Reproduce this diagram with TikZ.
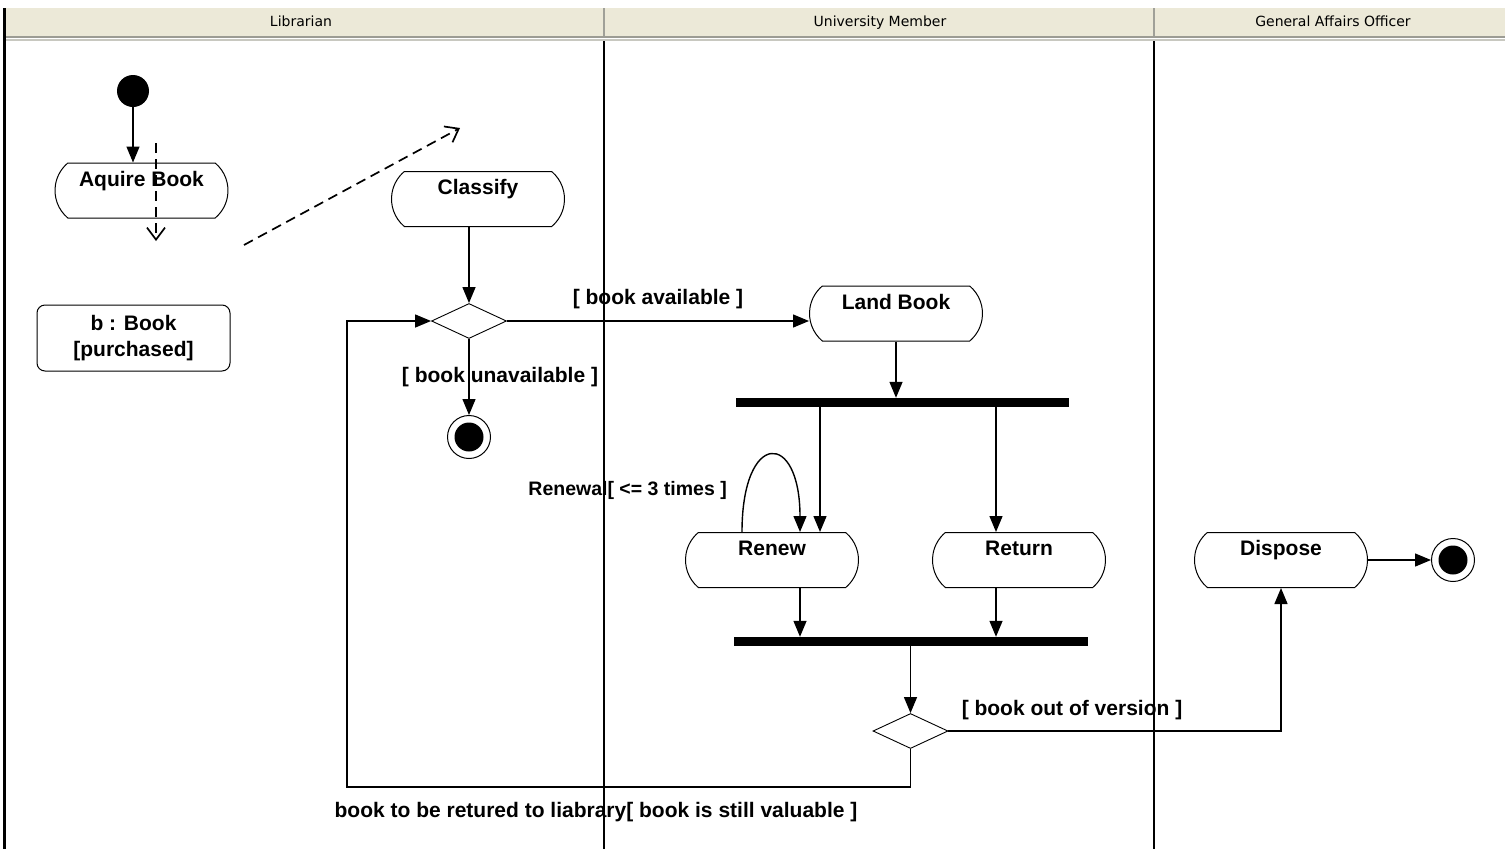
\documentclass[tikz,border=0pt]{standalone}
\usepackage{fontspec}
\setmainfont{Liberation Sans}
\newfontfamily\lanefont{DejaVu Sans}
\usetikzlibrary{shapes.misc,shapes.geometric,arrows.meta,calc}

\definecolor{headbg}{HTML}{ECE9D8}
\definecolor{headline}{HTML}{9C9C94}
\definecolor{headline2}{HTML}{C8C8C0}
\definecolor{lanesep}{HTML}{A0A098}

\begin{document}
\begin{tikzpicture}[x=1pt,y=-1pt,
  every node/.style={font=\fontsize{21}{26}\selectfont\bfseries},
  lanelabel/.style={font=\lanefont\fontsize{14}{16}\selectfont,
    text height=10pt, text depth=3pt, inner sep=0pt},
  activity/.style={rounded rectangle, rounded rectangle arc length=100,
    draw, line width=1pt, minimum width=173, minimum height=55,
    inner xsep=0pt, inner ysep=0pt, text height=23pt, text depth=32pt},
  objbox/.style={rectangle, rounded corners=8pt, draw, line width=1pt,
    minimum width=193, minimum height=66, align=center, inner sep=0pt},
  decision/.style={diamond, draw, line width=0.9pt, minimum width=75,
    minimum height=35, inner sep=0pt},
  startnode/.style={circle, fill=black, minimum size=32, inner sep=0pt},
  endnode/.style={circle, draw, line width=1pt, minimum size=43, inner sep=0pt,
    path picture={\fill[black] (path picture bounding box.center) circle (14.5pt);}},
  syncbar/.style={rectangle, fill=black, minimum height=9, inner sep=0pt},
  flow/.style={line width=1.4pt, -{Triangle[length=16pt,width=13pt]}},
  objflow/.style={line width=1.7pt, dash pattern=on 10pt off 6pt,
    -{Straight Barb[length=12pt,width=18pt,line width=1.7pt]}},
  guard/.style={inner sep=0pt}
]
\useasboundingbox (0,0) rectangle (1505,849);

% swimlane header band
\fill[headbg] (6,8) rectangle (1505,36);
\draw[headline, line width=2pt] (6,37) -- (1505,37);
\draw[headline2, line width=2pt] (6,40) -- (1505,40);
\draw[lanesep, line width=1.5pt] (604,8) -- (604,36);
\draw[lanesep, line width=1.5pt] (1154,8) -- (1154,36);

% lane borders
\draw[line width=3pt] (4,8) -- (4,849);
\draw[line width=1.4pt] (604,41) -- (604,849);
\draw[line width=1.4pt] (1154,41) -- (1154,849);

\node[lanelabel] (laneLib) at (301,22.5) {Librarian};
\node[lanelabel] (laneMem) at (880,22.5) {University Member};
\node[lanelabel] (laneGen) at (1333,22.5) {General Affairs Officer};

% activities and control nodes
\node[startnode] (start) at (133,91) {};
\node[activity] (acquire) at (141.5,190.5) {Aquire Book};
\node[objbox] (book) at (133.5,338) {b : Book\\{[purchased]}};
\node[activity] (classify) at (478,199) {Classify};
\node[decision] (dec1) at (469,321) {};
\node[endnode] (end1) at (469,437) {};
\node[activity] (land) at (896,313.5) {Land Book};
\node[syncbar, minimum width=333] (fork) at (902.5,402.5) {};
\node[activity] (renew) at (772,560) {Renew};
\node[activity] (ret) at (1019,560) {Return};
\node[syncbar, minimum width=354] (join) at (911,641.5) {};
\node[decision] (dec2) at (910.5,731) {};
\node[activity] (dispose) at (1281,560) {Dispose};
\node[endnode] (end2) at (1453,560) {};

% object flows (dashed)
\coordinate (ofA) at (156,143);
\coordinate (ofB) at (156,241);
\coordinate (ofC) at (244,245);
\coordinate (ofD) at (460,128);
\draw[objflow] (ofA) -- (ofB);
\draw[objflow] (ofC) -- (ofD);

% control flows
\draw[flow] (start) -- (start |- acquire.north);
\draw[flow] (classify.south -| dec1.north) -- (dec1.north);
\draw[flow] (dec1.east) -- (dec1.east -| land.west);
\draw[flow] (dec1.south) -- (end1.north);
\draw[flow] (land.south) -- (land.south |- fork.north);
\draw[flow] ([xshift=48pt]renew.north |- fork.south) -- ([xshift=48pt]renew.north);
\draw[flow] ([xshift=-23pt]ret.north |- fork.south) -- ([xshift=-23pt]ret.north);
\draw[flow] ([xshift=-30pt]renew.north) .. controls +(0,-102) and +(0,-102) .. ([xshift=28pt]renew.north);
\draw[flow] ([xshift=28pt]renew.south) -- ([xshift=28pt]renew.south |- join.north);
\draw[flow] ([xshift=-23pt]ret.south) -- ([xshift=-23pt]ret.south |- join.north);
\draw[flow] (join.south -| dec2.north) -- (dec2.north);
\draw[flow] (dec2.east) -| (dispose.south);
\coordinate (back) at (347,787);
\draw[flow] (dec2.south) |- (back) |- (dec1.west);
\draw[flow] (dispose.east) -- (end2.west);

% guards
\node[guard] (gAvail) at (658,299) {[ book available ]};
\node[guard] (gUnav) at (500,377) {[ book unavailable ]};
\node[guard, anchor=east, font=\fontsize{19.5}{24}\selectfont\bfseries] (gRenew) at (727,490) {Renewal[ <= 3 times ]};
\node[guard] (gOut) at (1072,710) {[ book out of version ]};
\node[guard] (gBack) at (596,812) {book to be retured to liabrary[ book is still valuable ]};
\end{tikzpicture}
\end{document}
